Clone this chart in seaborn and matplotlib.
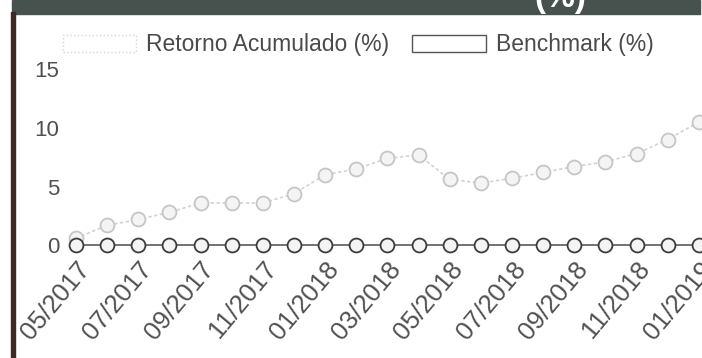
import pandas as pd
import matplotlib.pyplot as plt
import seaborn as sns
from matplotlib.patches import Rectangle, Patch

# monthly points, 05/2017 .. 01/2019
months = ['05/2017', '06/2017', '07/2017', '08/2017', '09/2017', '10/2017', '11/2017',
          '12/2017', '01/2018', '02/2018', '03/2018', '04/2018', '05/2018', '06/2018',
          '07/2018', '08/2018', '09/2018', '10/2018', '11/2018', '12/2018', '01/2019']
retorno = [0.6, 1.7, 2.2, 2.8, 3.6, 3.6, 3.6, 4.4, 6.0, 6.5, 7.4, 7.7, 5.6, 5.3,
           5.7, 6.2, 6.7, 7.1, 7.8, 9.0, 10.5]
benchmark = [0.0] * len(months)
yticks = [0, 5, 10, 15]

df = pd.DataFrame({
    'idx': list(range(len(months))) * 2,
    'valor': retorno + benchmark,
    'serie': ['Retorno Acumulado (%)'] * len(months) + ['Benchmark (%)'] * len(months),
})

sns.set_theme(style='white')
plt.rcParams['font.family'] = ['Liberation Sans', 'DejaVu Sans']

fig = plt.figure(figsize=(7.02, 3.58), dpi=100)
ax = fig.add_axes([62 / 702, 1 - 250 / 358, 1 - 62 / 702, (250 - 69) / 358])

pal = {'Retorno Acumulado (%)': '#d2d2d2', 'Benchmark (%)': '#5a5a5a'}
edges = {'Retorno Acumulado (%)': '#c6c6c6', 'Benchmark (%)': '#3c3c3c'}
for name in ['Retorno Acumulado (%)', 'Benchmark (%)']:
    sub = df[df['serie'] == name]
    sns.lineplot(data=sub, x='idx', y='valor', ax=ax, color=pal[name], lw=1.2,
                 linestyle=(0, (2, 1.5)) if name.startswith('Retorno') else '-',
                 marker='o', markersize=10, markerfacecolor='#f4f4f4',
                 markeredgecolor=edges[name], markeredgewidth=1.3,
                 clip_on=False if name.startswith('Bench') else True, legend=False)

ax.set_xlim(-0.45, 20.1)
ax.set_ylim(-0.4, 15)
ax.set_yticks(yticks)
ax.set_yticklabels([str(v) for v in yticks], fontsize=16, color='#505050')
ax.set_xticks(range(0, len(months), 2))
ax.set_xticklabels(months[::2], rotation=50, ha='right', rotation_mode='anchor',
                   fontsize=18.5, color='#505050')
ax.tick_params(axis='y', length=0, pad=2)
ax.tick_params(axis='x', length=0, pad=5)
ax.set_xlabel('')
ax.set_ylabel('')
for s in ax.spines.values():
    s.set_visible(False)

handles = [Patch(facecolor='white', edgecolor='#d4d4d4', linestyle=':', lw=1),
           Patch(facecolor='white', edgecolor='#555555', lw=1)]
fig.legend(handles, ['Retorno Acumulado (%)', 'Benchmark (%)'], ncol=2, frameon=False,
           loc='center left', bbox_to_anchor=(42 / 702, 1 - 45 / 358), fontsize=16.5,
           handlelength=3.2, handleheight=0.8, handletextpad=0.45, columnspacing=1.0,
           labelcolor='#4a4a4a')

# scanned header bar and left border
fig.patches.append(Rectangle((12 / 702, 1 - 14 / 358), 688 / 702, 14 / 358,
                             transform=fig.transFigure, color='#47524f', zorder=0))
fig.patches.append(Rectangle((11 / 702, 0), 4 / 702, 1 - 12 / 358,
                             transform=fig.transFigure, color='#3b2b24', zorder=0))
fig.text(560 / 702, 1 - 7 / 358, '(%)', color='white', fontsize=24, ha='center',
         va='baseline', fontweight='bold')

plt.savefig('out.png', dpi=100)
